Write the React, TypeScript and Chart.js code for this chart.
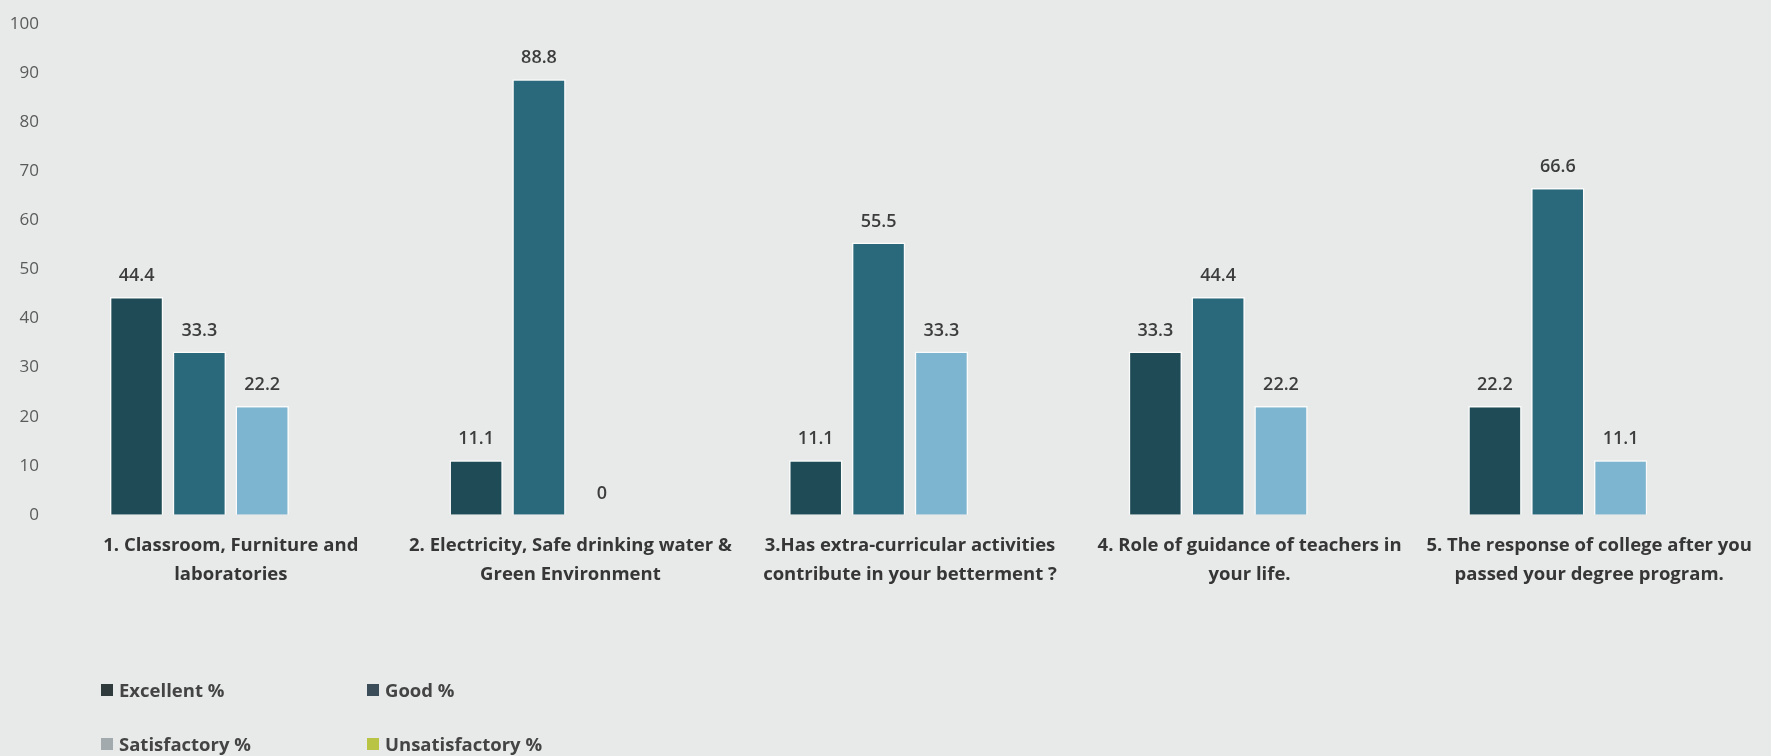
import React, { useEffect, useRef } from "react";
import { Chart, registerables } from "chart.js";

Chart.register(...registerables);

const categories: string[][] = [
  ["1. Classroom, Furniture and", "laboratories"],
  ["2. Electricity, Safe drinking water &", "Green Environment"],
  ["3.Has extra-curricular activities", "contribute in your betterment ?"],
  ["4. Role of guidance of teachers in", "your life."],
  ["5. The response of college after you", "passed your degree program."],
];

const seriesNames = ["Excellent %", "Good %", "Satisfactory %", "Unsatisfactory %"];
const excellent = [44.4, 11.1, 11.1, 33.3, 22.2];
const good = [33.3, 88.8, 55.5, 44.4, 66.6];
const satisfactory = [22.2, 0, 33.3, 22.2, 11.1];
const unsatisfactory: (number | null)[] = [null, null, null, null, null];

const barColors = ["#1e4b55", "#2a687b", "#7db4cf", "#b9c445"];
const legendColors = ["#2f3a3c", "#3b4d58", "#a3aaad", "#b9c445"];

const FONT = "'Open Sans', 'Noto Sans', sans-serif";

const valueLabels = {
  id: "valueLabels",
  afterDatasetsDraw(chart: any) {
    const ctx = chart.ctx;
    ctx.save();
    ctx.font = `600 18px ${FONT}`;
    ctx.fillStyle = "#3d3d3d";
    ctx.textAlign = "center";
    ctx.textBaseline = "bottom";
    chart.data.datasets.forEach((ds: any, i: number) => {
      const meta = chart.getDatasetMeta(i);
      meta.data.forEach((bar: any, j: number) => {
        const v = ds.data[j];
        if (v === null || v === undefined) return;
        const txt = Number.isInteger(v) ? String(v) : v.toFixed(1);
        ctx.fillText(txt, bar.x, bar.y - 12);
      });
    });
    ctx.restore();
  },
};

export default function App() {
  const ref = useRef<HTMLCanvasElement>(null);
  useEffect(() => {
    if (!ref.current) return;
    const data = [excellent, good, satisfactory, unsatisfactory];
    const chart = new Chart(ref.current, {
      type: "bar",
      data: {
        labels: categories,
        datasets: seriesNames.map((n, i) => ({
          label: n,
          data: data[i],
          backgroundColor: barColors[i],
          borderColor: "rgba(255,255,255,0.8)",
          borderWidth: 1.5,
          categoryPercentage: 0.74,
          barPercentage: 0.85,
        })),
      },
      options: {
        animation: false,
        responsive: false,
        maintainAspectRatio: false,
        layout: { padding: { left: 11, right: 12, top: 6, bottom: 158 } },
        plugins: { legend: { display: false }, tooltip: { enabled: false } },
        scales: {
          x: {
            grid: { display: false },
            border: { display: false },
            ticks: {
              color: "#363636",
              padding: 8,
              maxRotation: 0,
              autoSkip: false,
              font: { family: FONT, size: 18.5, weight: "bold", lineHeight: 1.6 },
            },
          },
          y: {
            min: 0,
            max: 100,
            grid: { display: false },
            border: { display: false },
            afterFit: (s: any) => {
              s.width = 50;
            },
            ticks: {
              stepSize: 10,
              color: "#5a5a5a",
              padding: 14,
              font: { family: FONT, size: 17 },
            },
          },
        },
      },
      plugins: [valueLabels],
    });
    return () => chart.destroy();
  }, []);

  const legendPos = [
    { left: 101, top: 679 },
    { left: 367, top: 679 },
    { left: 101, top: 733 },
    { left: 367, top: 733 },
  ];

  return (
    <div
      style={{
        position: "absolute",
        left: 0,
        top: 0,
        width: 1771,
        height: 756,
        background: "#e8eaea",
        overflow: "hidden",
      }}
    >
      <canvas ref={ref} width={1771} height={756} style={{ display: "block" }} />
      {seriesNames.map((n, i) => (
        <div
          key={n}
          style={{
            position: "absolute",
            left: legendPos[i].left,
            top: legendPos[i].top,
            display: "flex",
            alignItems: "center",
            fontFamily: FONT,
            fontWeight: 700,
            fontSize: 18.5,
            color: "#444",
            lineHeight: "22px",
          }}
        >
          <span
            style={{
              display: "inline-block",
              width: 12,
              height: 12,
              background: legendColors[i],
              marginRight: 6,
            }}
          />
          {n}
        </div>
      ))}
    </div>
  );
}
